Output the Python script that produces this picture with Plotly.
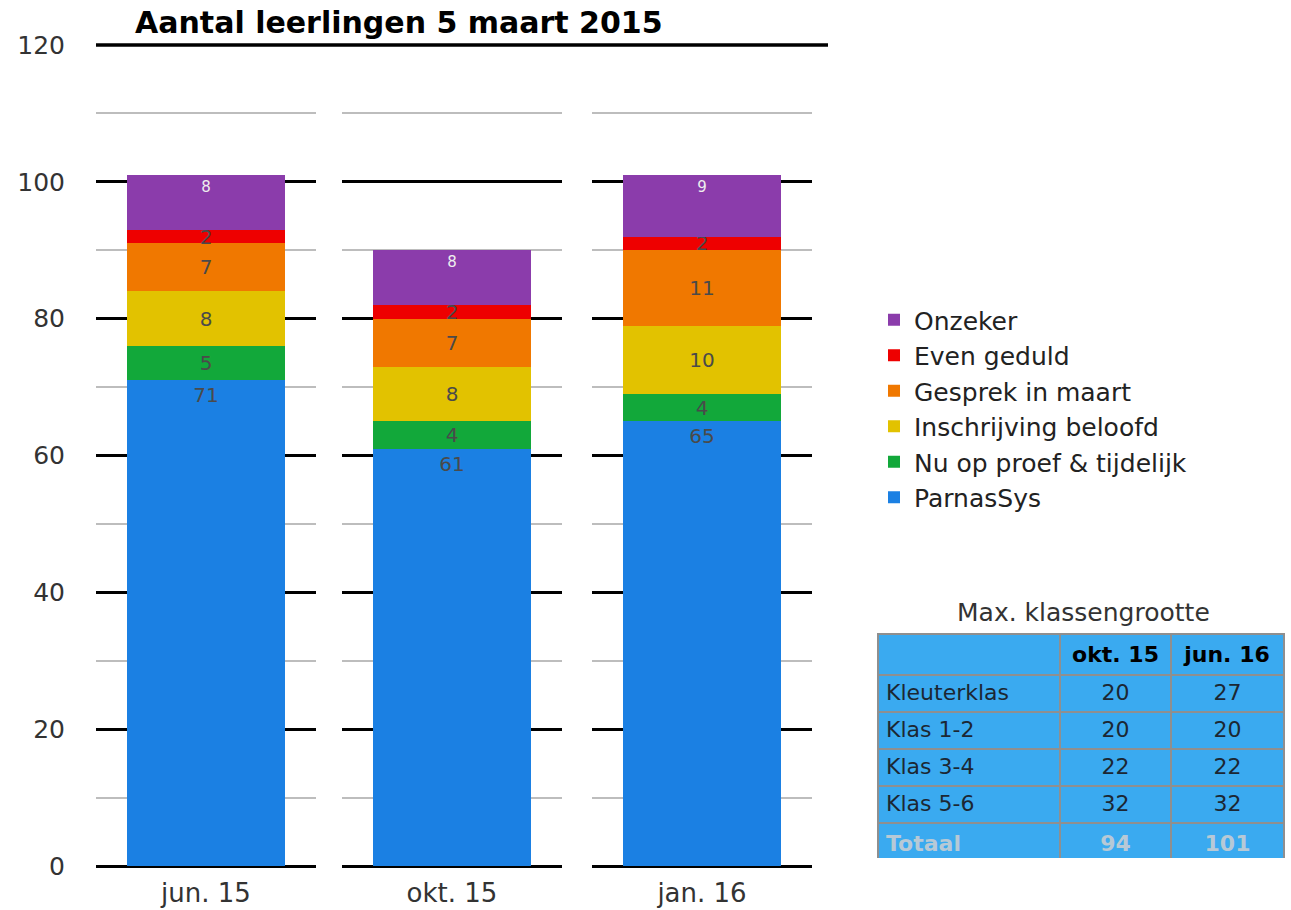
import plotly.graph_objects as go

# ---------------- data ----------------
categories = ["jun. 15", "okt. 15", "jan. 16"]

series_names = ["ParnasSys", "Nu op proef & tijdelijk", "Inschrijving beloofd",
                "Gesprek in maart", "Even geduld", "Onzeker"]
parnassys = [71, 61, 65]
nu_op_proef = [5, 4, 4]
inschrijving_beloofd = [8, 8, 10]
gesprek_in_maart = [7, 7, 11]
even_geduld = [2, 2, 2]
onzeker = [8, 8, 9]

y_tick_values = [0, 20, 40, 60, 80, 100, 120]

table_title = "Max. klassengrootte"
table_row_labels = ["Kleuterklas", "Klas 1-2", "Klas 3-4", "Klas 5-6", "Totaal"]
table_col_labels = ["okt. 15", "jun. 16"]
max_okt15 = [20, 20, 22, 32, 94]
max_jun16 = [27, 20, 22, 32, 101]

chart_title = "Aantal leerlingen 5 maart 2015"

# ---------------- styling ----------------
W, H = 1291, 910
FONT = "DejaVu Sans, Liberation Sans, Arial, sans-serif"
series_values = [parnassys, nu_op_proef, inschrijving_beloofd,
                 gesprek_in_maart, even_geduld, onzeker]
series_colors = ["#1b80e3", "#12a83a", "#e2c200", "#f07800", "#ee0000", "#8b3cab"]
label_anchor = ["end", "middle", "middle", "middle", "middle", "end"]
label_color = ["#4a4a4a", "#4a4a4a", "#4a4a4a", "#4a4a4a", "#4a4a4a", "#eeeeee"]
label_size = [20, 20, 20, 20, 20, 15]


def px_x(p):
    return p / W


def px_y(p):
    return 1 - p / H


x_domains = [(96, 316), (342, 562), (592, 812)]
y_domain = [px_y(866), px_y(45)]

fig = go.Figure()

for ci, cat in enumerate(categories):
    suffix = "" if ci == 0 else str(ci + 1)
    for si, name in enumerate(series_names):
        v = series_values[si][ci]
        fig.add_trace(go.Bar(
            x=[cat], y=[v], name=name,
            xaxis="x" + suffix, yaxis="y" + suffix,
            marker=dict(color=series_colors[si], line=dict(width=0)),
            text=[str(v)], textposition="inside", textangle=0,
            insidetextanchor=label_anchor[si], constraintext="none",
            textfont=dict(family=FONT, size=label_size[si], color=label_color[si]),
            showlegend=(ci == 0), hoverinfo="name+y",
        ))

# table
fig.add_trace(go.Table(
    domain=dict(x=[px_x(878), px_x(1284)], y=[px_y(858), px_y(634)]),
    columnwidth=[182, 111, 113],
    header=dict(
        values=[""] + ["<b>%s</b>" % c for c in table_col_labels],
        height=37, fill_color="#3aaaf0",
        line=dict(color="#8f8f8f", width=1.5),
        font=dict(family=FONT, size=22, color="#000000"),
        align=["left", "center", "center"],
    ),
    cells=dict(
        values=[
            [("<b>%s</b>" % r if r == "Totaal" else r) for r in table_row_labels],
            [("<b>%d</b>" % v if i == len(max_okt15) - 1 else str(v)) for i, v in enumerate(max_okt15)],
            [("<b>%d</b>" % v if i == len(max_jun16) - 1 else str(v)) for i, v in enumerate(max_jun16)],
        ],
        height=37, fill_color="#3aaaf0",
        line=dict(color="#8f8f8f", width=1.5),
        font=dict(family=FONT, size=22,
                  color=[["#1c2733"] * 4 + ["#b7c9d6"]] * 3),
        align=["left", "center", "center"],
    ),
))

axis_common_y = dict(
    range=[0, 120], domain=y_domain,
    tickmode="array", tickvals=y_tick_values,
    showgrid=True, gridcolor="#000000", gridwidth=2.5,
    minor=dict(dtick=10, tick0=0, showgrid=True, gridcolor="#bdbdbd", gridwidth=2),
    zeroline=True, zerolinecolor="#000000", zerolinewidth=3,
    showline=False, ticks="", automargin=False, fixedrange=True,
)
axis_common_x = dict(
    showgrid=False, zeroline=False, showline=False, ticks="",
    tickfont=dict(family=FONT, size=26, color="#333333"),
    ticklabelstandoff=9, automargin=False, fixedrange=True,
)

layout = dict(
    width=W, height=H, template="none",
    margin=dict(l=0, r=0, t=0, b=0),
    paper_bgcolor="white", plot_bgcolor="rgba(0,0,0,0)",
    font=dict(family=FONT, color="#333333"),
    barmode="stack", bargap=0.28,
    title=dict(text="<b>%s</b>" % chart_title, x=px_x(135), xanchor="left",
               xref="paper", y=px_y(22), yanchor="middle", yref="container",
               font=dict(family=FONT, size=30, color="#000000")),
    legend=dict(x=px_x(874), y=px_y(297), xanchor="left", yanchor="top",
                traceorder="reversed", font=dict(family=FONT, size=25, color="#222222"),
                bgcolor="rgba(0,0,0,0)", itemclick=False, itemdoubleclick=False),
    annotations=[dict(text=table_title, x=px_x(1083), y=px_y(612), xref="paper", yref="paper",
                      xanchor="center", yanchor="middle", showarrow=False,
                      font=dict(family=FONT, size=25, color="#333333"))],
    shapes=[dict(type="line", xref="paper", yref="paper", x0=px_x(96), x1=px_x(828),
                 y0=y_domain[1], y1=y_domain[1], line=dict(color="#000000", width=3.5))],
)
for ci in range(3):
    suffix = "" if ci == 0 else str(ci + 1)
    xd = x_domains[ci]
    layout["xaxis" + suffix] = dict(axis_common_x, domain=[px_x(xd[0]), px_x(xd[1])],
                                    anchor="y" + suffix)
    ya = dict(axis_common_y, anchor="x" + suffix)
    if ci == 0:
        ya.update(showticklabels=True, tickfont=dict(family=FONT, size=25, color="#333333"),
                  ticklabelstandoff=30)
    else:
        ya.update(showticklabels=False, matches="y")
    layout["yaxis" + suffix] = ya

fig.update_layout(**layout)
fig.write_html("out.html", config={"displayModeBar": False},
               post_script="document.body.style.margin='0px';document.body.style.overflow='hidden';")
